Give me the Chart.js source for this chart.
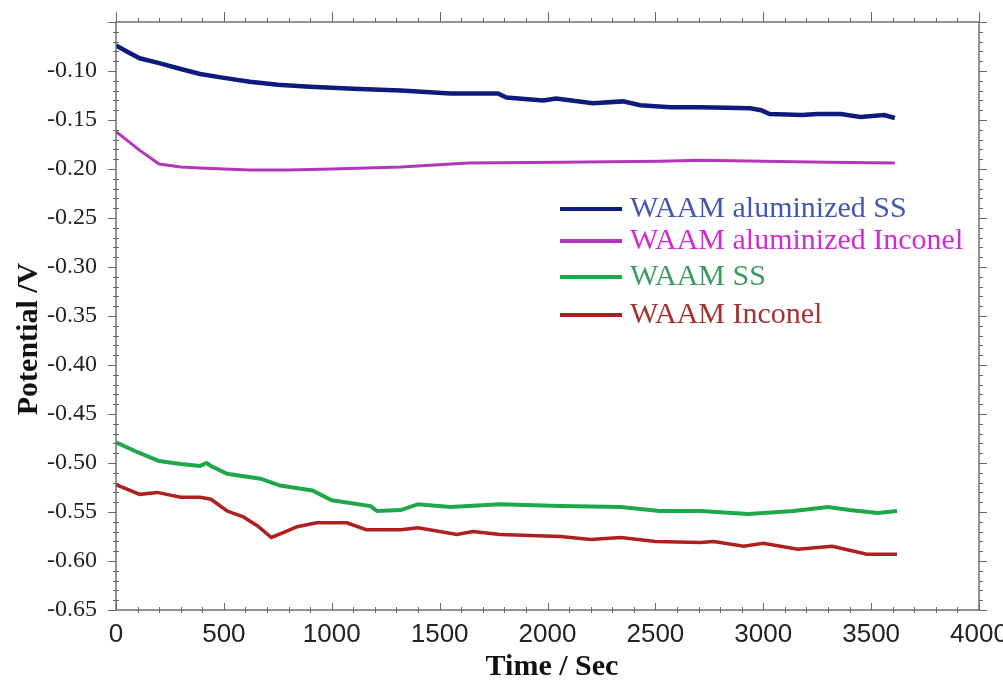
<!DOCTYPE html>
<html>
<head>
<meta charset="utf-8">
<script src="https://cdn.jsdelivr.net/npm/chart.js@4"></script>
<style>
  html, body { margin: 0; padding: 0; background: #fff; }
  #wrap { width: 1003px; height: 680px; position: relative; }
</style>
</head>
<body>
<div id="wrap"><canvas id="potChart"></canvas></div>
<script>
// --- Data ---
const seriesNames = ['WAAM aluminized SS', 'WAAM aluminized Inconel', 'WAAM SS', 'WAAM Inconel'];

const tAlSS = [0, 50, 110, 200, 300, 390, 500, 620, 750, 900, 1100, 1320, 1550, 1770, 1810, 1980, 2040, 2210, 2350, 2430, 2570, 2710, 2940, 2990, 3030, 3180, 3250, 3360, 3450, 3560, 3610];
const vAlSS = [-0.074, -0.080, -0.087, -0.092, -0.098, -0.103, -0.107, -0.111, -0.114, -0.116, -0.118, -0.120, -0.123, -0.123, -0.127, -0.130, -0.128, -0.133, -0.131, -0.135, -0.137, -0.137, -0.138, -0.140, -0.144, -0.145, -0.144, -0.144, -0.147, -0.145, -0.148];

const tAlIn = [0, 30, 110, 200, 300, 390, 500, 620, 800, 1000, 1320, 1630, 2060, 2520, 2710, 3000, 3300, 3610];
const vAlIn = [-0.162, -0.167, -0.181, -0.195, -0.198, -0.199, -0.200, -0.201, -0.201, -0.200, -0.198, -0.194, -0.193, -0.192, -0.191, -0.192, -0.193, -0.194];

const tSS = [0, 100, 200, 300, 390, 420, 440, 515, 670, 760, 910, 1000, 1180, 1210, 1320, 1400, 1550, 1780, 2060, 2340, 2520, 2710, 2930, 3140, 3300, 3400, 3530, 3620];
const vSS = [-0.479, -0.489, -0.498, -0.501, -0.503, -0.500, -0.503, -0.511, -0.516, -0.523, -0.528, -0.538, -0.544, -0.549, -0.548, -0.542, -0.545, -0.542, -0.544, -0.545, -0.549, -0.549, -0.552, -0.549, -0.545, -0.548, -0.551, -0.549];

const tIn = [0, 110, 190, 300, 390, 440, 515, 590, 655, 720, 775, 840, 930, 1070, 1160, 1320, 1400, 1580, 1655, 1780, 2060, 2200, 2340, 2500, 2710, 2770, 2910, 3000, 3160, 3320, 3480, 3620];
const vIn = [-0.522, -0.532, -0.530, -0.535, -0.535, -0.537, -0.549, -0.555, -0.564, -0.576, -0.571, -0.565, -0.561, -0.561, -0.568, -0.568, -0.566, -0.573, -0.570, -0.573, -0.575, -0.578, -0.576, -0.580, -0.581, -0.580, -0.585, -0.582, -0.588, -0.585, -0.593, -0.593];

// --- Styling ---
const lineColors = ['#101a7c', '#b436b8', '#1fa84a', '#b01e1e'];
const textColors = ['#4656b4', '#d22ad2', '#3a9a60', '#a83232'];
const lineWidths = [4.5, 3, 4, 3.5];

function toPoints(ts, vs) {
    return ts.map((t, i) => ({ x: t, y: vs[i] }));
}

const seriesData = [
    toPoints(tAlSS, vAlSS),
    toPoints(tAlIn, vAlIn),
    toPoints(tSS, vSS),
    toPoints(tIn, vIn)
];

// Frame, minor ticks, legend and y title
const decorPlugin = {
    id: 'decor',
    afterDraw(chart) {
        const ctx = chart.ctx;
        const area = chart.chartArea;
        const xs = chart.scales.x;
        const ys = chart.scales.y;
        ctx.save();

        // axis frame
        ctx.strokeStyle = '#707070';
        ctx.lineWidth = 1.5;
        ctx.strokeRect(area.left, area.top, area.right - area.left, area.bottom - area.top);

        // ticks
        ctx.strokeStyle = '#666';
        ctx.lineWidth = 1;
        ctx.beginPath();
        for (let t = 0; t <= 4000; t += 100) {
            const px = Math.round(xs.getPixelForValue(t)) + 0.5;
            const major = t % 500 === 0;
            // bottom (inward)
            ctx.moveTo(px, area.bottom);
            ctx.lineTo(px, area.bottom - (major ? 7 : 3));
            if (!major) { ctx.moveTo(px, area.bottom); ctx.lineTo(px, area.bottom + 3); }
            // top (outward)
            ctx.moveTo(px, area.top);
            ctx.lineTo(px, area.top - (major ? 10 : 4));
        }
        for (let k = 0; k <= 60; k++) {
            const v = -0.65 + k * 0.01;
            const py = Math.round(ys.getPixelForValue(v)) + 0.5;
            const major = k % 5 === 0;
            // left
            ctx.moveTo(area.left, py);
            ctx.lineTo(area.left - (major ? 8 : 3), py);
            if (!major) { ctx.moveTo(area.left, py); ctx.lineTo(area.left + 3, py); }
            // right
            ctx.moveTo(area.right, py);
            ctx.lineTo(area.right + (major ? 8 : 4), py);
        }
        ctx.stroke();

        // legend inside the plot
        const rowY = [209, 241, 277, 315];
        ctx.font = '30px "Liberation Serif", "Times New Roman", serif';
        ctx.textAlign = 'left';
        ctx.textBaseline = 'alphabetic';
        chart.data.datasets.forEach((ds, i) => {
            ctx.strokeStyle = ds.borderColor;
            ctx.lineWidth = 4;
            ctx.beginPath();
            ctx.moveTo(560, rowY[i]);
            ctx.lineTo(622, rowY[i]);
            ctx.stroke();
            ctx.fillStyle = textColors[i];
            ctx.fillText(ds.label, 630, rowY[i] + 8);
        });

        // axis titles
        ctx.fillStyle = '#111';
        ctx.font = 'bold 30px "Liberation Serif", "Times New Roman", serif';
        ctx.textAlign = 'center';
        ctx.fillText('Time / Sec', 552, 675);
        ctx.translate(37, 339);
        ctx.rotate(-Math.PI / 2);
        ctx.fillText('Potential /V', 0, 0);

        ctx.restore();
    }
};

const ctx = document.getElementById('potChart').getContext('2d');
new Chart(ctx, {
    type: 'line',
    data: {
        datasets: seriesNames.map((name, i) => ({
            label: name,
            data: seriesData[i],
            borderColor: lineColors[i],
            backgroundColor: lineColors[i],
            borderWidth: lineWidths[i],
            pointRadius: 0,
            tension: 0,
            fill: false
        }))
    },
    options: {
        responsive: true,
        maintainAspectRatio: false,
        animation: false,
        layout: { padding: { left: 0, top: 22, right: 24, bottom: 0 } },
        plugins: {
            legend: { display: false },
            tooltip: { enabled: false }
        },
        scales: {
            x: {
                type: 'linear',
                min: 0,
                max: 4000,
                grid: { display: false, drawTicks: false },
                border: { display: false },
                ticks: {
                    stepSize: 500,
                    padding: 9,
                    maxRotation: 0,
                    color: '#222',
                    font: { family: '"Liberation Sans", Arial, sans-serif', size: 26 },
                    callback: v => String(v)
                },
                afterFit(scale) {
                    scale.height = 70;
                    scale.paddingLeft = 0;
                    scale.paddingRight = 0;
                }
            },
            y: {
                type: 'linear',
                min: -0.65,
                max: -0.05,
                grid: { display: false, drawTicks: false },
                border: { display: false },
                ticks: {
                    stepSize: 0.05,
                    padding: 19,
                    color: '#222',
                    font: { family: '"Liberation Serif", "Times New Roman", serif', size: 24 },
                    callback: v => (v > -0.075 ? '' : v.toFixed(2))
                },
                afterFit(scale) {
                    scale.width = 116;
                    scale.paddingTop = 0;
                    scale.paddingBottom = 0;
                }
            }
        }
    },
    plugins: [decorPlugin]
});
</script>
</body>
</html>
